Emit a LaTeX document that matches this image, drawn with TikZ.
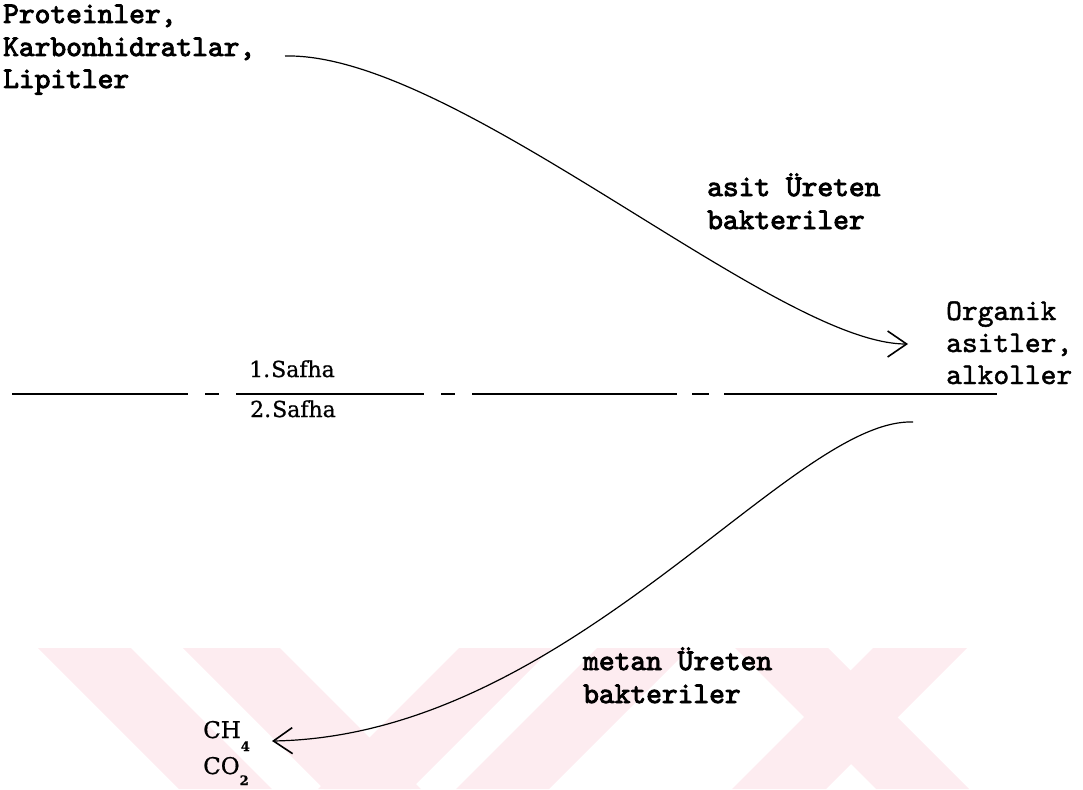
\documentclass[tikz,border=0pt]{standalone}
\usepackage{fontspec}
\setmainfont{DejaVu Serif}
\newfontfamily\tw[FakeBold=3]{lmmono10-regular.otf}
\newfontfamily\twm[FakeBold=1.6]{lmmono10-regular.otf}
\newfontfamily\sfh[FakeBold=0.8]{DejaVu Serif}
\usetikzlibrary{arrows.meta}
\definecolor{wm}{RGB}{253,236,240}
\begin{document}
\begin{tikzpicture}[x=1pt,y=-1pt,
  tb/.style={anchor=base west,inner sep=0pt,font=\tw\fontsize{30}{30}\selectfont},
  tr/.style={anchor=base west,inner sep=0pt,font=\twm\fontsize{30}{30}\selectfont},
  sf/.style={anchor=base west,inner sep=0pt,font=\sfh\fontsize{22}{22}\selectfont},
  chem/.style={anchor=base west,inner sep=0pt,font=\sfh\fontsize{23}{23}\selectfont},
  flow/.style={line width=1.2pt,-{Straight Barb[length=19pt,width=26pt,line width=1.6pt]}},
  divider/.style={line width=1.8pt},
  wmark/.style={fill=wm,draw=none}]
\useasboundingbox (0,0) rectangle (1083,789);
% watermark stripes
\foreach \a/\w in {38/93,183/97,735/93}{
  \fill[wmark] (\a,648) -- (\a+\w,648) -- (\a+\w+141,789) -- (\a+141,789) -- cycle;}
\foreach \a/\w in {459/93,597/93,873/94}{
  \fill[wmark] (\a,648) -- (\a+\w,648) -- (\a+\w-141,789) -- (\a-141,789) -- cycle;}
% texts
\node[tb] (p1) at (3,23) {Proteinler,};
\node[tb] (p2) at (3,56) {Karbonhidratlar,};
\node[tb] (p3) at (3,88) {Lipitler};
\node[tb] (a1) at (707,196) {asit Üreten};
\node[tb] (a2) at (707,229) {bakteriler};
\node[tr] (o1) at (946,320) {Organik};
\node[tr] (o2) at (946,352) {asitler,};
\node[tr] (o3) at (946,384) {alkoller};
\node[sf] (f1) at (249,377) {1.\kern1pt Safha};
\node[sf] (f2) at (250,417) {2.\kern1pt Safha};
\node[tb] (m1) at (583,670) {metan Üreten};
\node[tb] (m2) at (583,703) {bakteriler};
\node[chem] (ch) at (203,738) {CH\raisebox{-13pt}{\fontsize{13}{13}\selectfont\bfseries 4}};
\node[chem] (co) at (203,774) {CO\raisebox{-11pt}{\fontsize{13}{13}\selectfont\bfseries 2}};
% divider
\foreach \u/\v in {12/188,205/219,236/424,441/455,472/677,692/709,724/997}{
  \draw[divider] (\u,394) -- (\v,394);}
% connectors
\coordinate (s1) at (285,56);
\coordinate (t1) at (908,344);
\coordinate (s2) at (913,422);
\coordinate (t2) at (272,741);
\draw[flow] (s1) .. controls (455,52) and (775,344) .. (t1);
\draw[flow] (s2) .. controls (790,418) and (570,736) .. (t2);
\end{tikzpicture}
\end{document}
